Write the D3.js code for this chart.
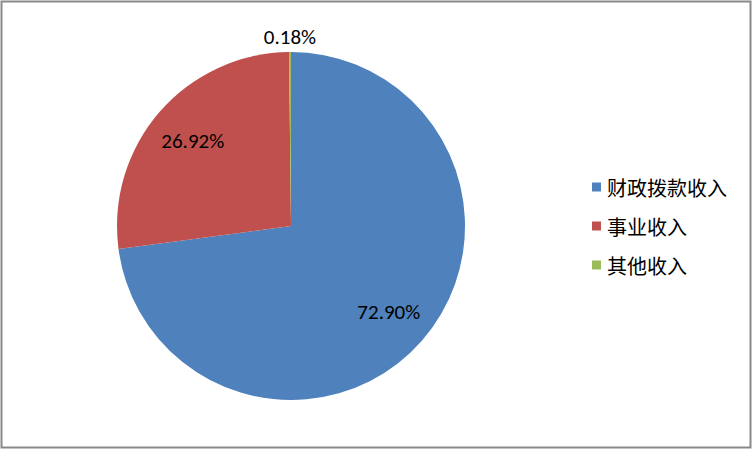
<!DOCTYPE html>
<html><head><meta charset="utf-8">
<script src="https://cdn.jsdelivr.net/npm/d3@7"></script>
<style>body{margin:0;background:#fff}svg{display:block}</style>
</head><body>
<svg id="c" width="753" height="451"></svg>
<script>
const categories = ["财政拨款收入", "事业收入", "其他收入"];
const values = [72.90, 26.92, 0.18];
const labels = ["72.90%", "26.92%", "0.18%"];
const colors = ["#4F81BD", "#C0504D", "#9BBB59"];

const svg = d3.select("#c");
svg.append("rect").attr("x",1.5).attr("y",1.5).attr("width",749).attr("height",446)
  .attr("fill","#fff").attr("stroke","#898989").attr("stroke-width",2);

const cx = 291, cy = 226, r = 174;
const pie = d3.pie().sort(null).value(d=>d)(values);
const arc = d3.arc().innerRadius(0).outerRadius(r);
const g = svg.append("g").attr("transform",`translate(${cx},${cy})`);
g.selectAll("path").data(pie).join("path")
  .attr("d",arc).attr("fill",(d,i)=>colors[i]);

const inArc = d3.arc().innerRadius(130).outerRadius(130);
const outArc = d3.arc().innerRadius(189).outerRadius(189);
g.selectAll("text").data(pie).join("text")
  .attr("transform",d=>{const p=(d.value<1?outArc:inArc).centroid(d);return `translate(${p[0]},${p[1]})`;})
  .attr("text-anchor","middle").attr("dominant-baseline","central")
  .attr("font-family","Carlito, 'Liberation Sans', Arial, sans-serif").attr("font-size",21)
  .attr("fill","#000").text((d,i)=>labels[i]);

const lg = svg.append("g");
const ly = d3.scalePoint().domain(categories).range([187,265]);
lg.selectAll("rect").data(categories).join("rect")
  .attr("x",592).attr("y",d=>ly(d)-4.5).attr("width",9).attr("height",9)
  .attr("fill",(d,i)=>colors[i]);
lg.selectAll("text").data(categories).join("text")
  .attr("x",607).attr("y",d=>ly(d)).attr("dominant-baseline","central")
  .style("font-family","'Noto Sans CJK SC', sans-serif").style("font-size","20px")
  .attr("fill","#000").text(d=>d);
</script>
</body></html>
